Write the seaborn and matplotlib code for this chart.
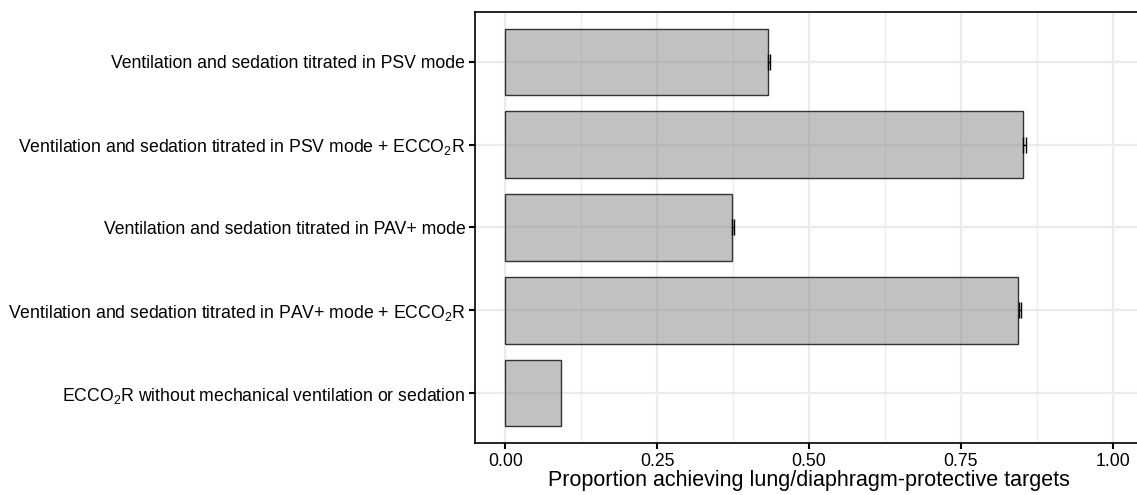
import matplotlib
matplotlib.use('Agg')
import matplotlib.pyplot as plt
import pandas as pd
import seaborn as sns

# Data
strategies = [
    'Ventilation and sedation titrated in PSV mode',
    'Ventilation and sedation titrated in PSV mode + ECCO$_2$R',
    'Ventilation and sedation titrated in PAV+ mode',
    'Ventilation and sedation titrated in PAV+ mode + ECCO$_2$R',
    'ECCO$_2$R without mechanical ventilation or sedation',
]
proportion = [0.432, 0.852, 0.373, 0.844, 0.091]
err_low = [0.432, 0.853, 0.373, 0.845, 0.091]
err_high = [0.436, 0.857, 0.377, 0.849, 0.091]
x_ticks = [0.00, 0.25, 0.50, 0.75, 1.00]
x_tick_labels = ['0.00', '0.25', '0.50', '0.75', '1.00']

df = pd.DataFrame({'strategy': strategies, 'proportion': proportion,
                   'lo': err_low, 'hi': err_high})

sns.set_theme(style='white')
plt.rcParams['font.family'] = ['Liberation Sans', 'DejaVu Sans']
plt.rcParams['mathtext.fontset'] = 'custom'
plt.rcParams['mathtext.rm'] = 'Liberation Sans'
plt.rcParams['mathtext.it'] = 'Liberation Sans'
plt.rcParams['mathtext.default'] = 'regular'

fig = plt.figure(figsize=(11.37, 4.95), dpi=100)
ax = fig.add_axes([475 / 1137, 1 - 443 / 495, (1143 - 475) / 1137, (443 - 12) / 495])

# panel grid (ggplot theme_bw style)
ax.set_axisbelow(True)
for v in [0.125, 0.375, 0.625, 0.875]:
    ax.axvline(v, color='#ebebeb', lw=1.0, zorder=0)
for v in x_ticks:
    ax.axvline(v, color='#ebebeb', lw=1.6, zorder=0)
for i in range(len(strategies)):
    ax.axhline(i, color='#ebebeb', lw=1.6, zorder=0)

sns.barplot(data=df, x='proportion', y='strategy', orient='h', ax=ax,
            color='#838785', edgecolor='#333333', linewidth=1.0,
            width=0.8, errorbar=None, saturation=1, zorder=2)
for p in ax.patches:
    p.set_facecolor((0x83 / 255, 0x87 / 255, 0x85 / 255, 0.5))

# error bars
mid = (df['lo'] + df['hi']) / 2
half = (df['hi'] - df['lo']) / 2
has_err = half > 0
ax.errorbar(mid[has_err], df.index[has_err], xerr=half[has_err], fmt='none',
            ecolor='black', elinewidth=1.0, capsize=6, capthick=1.0, zorder=3)

ax.set_xlim(-0.05, 1.05)
ax.set_ylim(len(strategies) - 0.4, -0.6)
ax.set_xticks(x_ticks)
ax.set_xticklabels(x_tick_labels)
ax.tick_params(axis='both', which='major', direction='out', length=4, width=1.5,
               color='black', labelsize=12.7, labelcolor='black', pad=3,
               left=True, bottom=True)
ax.set_ylabel('')
ax.set_xlabel('Proportion achieving lung/diaphragm-protective targets',
              fontsize=15.5, labelpad=0, color='black')
for s in ax.spines.values():
    s.set_color('black')
    s.set_linewidth(1.2)

fig.savefig('out.png', dpi=100)
